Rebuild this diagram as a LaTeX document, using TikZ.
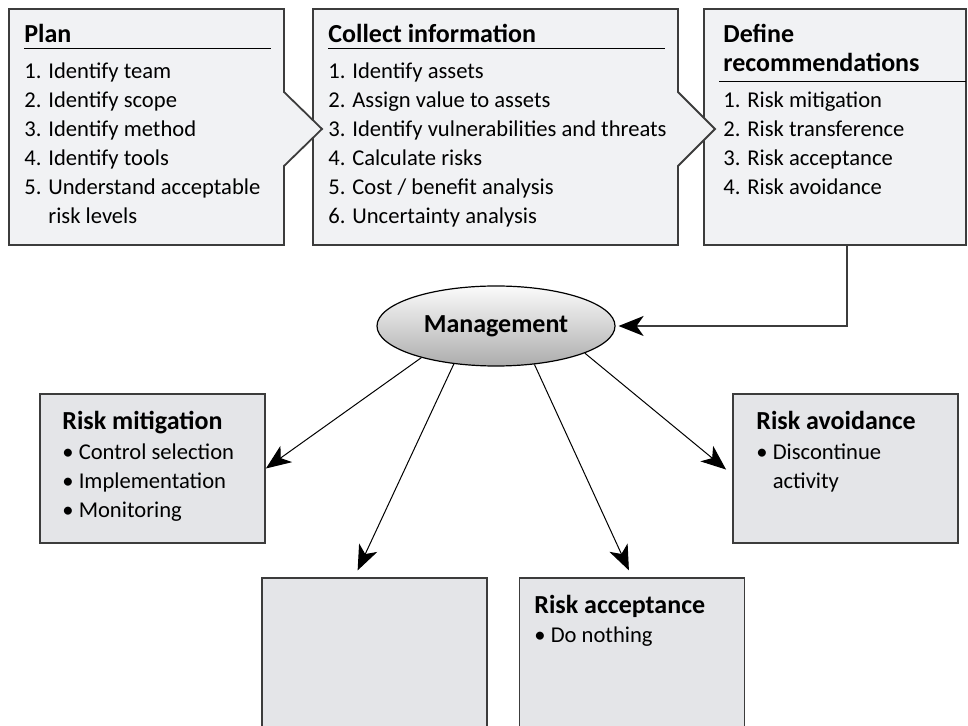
\documentclass[tikz,border=0pt]{standalone}
\usepackage{fontspec}
\setmainfont{Carlito}
\usepackage{tikz}
\usetikzlibrary{arrows.meta,positioning,shapes.geometric}

\definecolor{topfill}{RGB}{241,242,244}
\definecolor{lowfill}{RGB}{228,229,232}
\definecolor{edge}{RGB}{60,60,60}

\tikzset{
  boxline/.style={draw=edge, line width=0.9pt},
  topbox/.style={boxline, fill=topfill},
  lowbox/.style={boxline, fill=lowfill, inner sep=0pt, minimum width=112.5pt},
  head/.style={anchor=base west, inner sep=0pt, font=\fontsize{13}{14.5}\selectfont\bfseries},
  item/.style={anchor=base west, inner sep=0pt, font=\fontsize{11.3}{14.5}\selectfont},
  bigtip/.style={-{Stealth[length=12.5pt,width=10pt,inset=3.5pt,color=black]}},
  arr/.style={bigtip, line width=0.5pt},
}

\begin{document}
\begin{tikzpicture}[x=0.5pt, y=-0.5pt]
    \clip (0,0) rectangle (968,726);
    \def\tip{129}
    \def\dy{29}
    % Top boxes (last one first, so the pointers cover the borders)
    \node[topbox, minimum width=131pt, minimum height=118pt] (define) at (835,127) {};
    \draw[topbox] (313,9) -- (678,9) -- (678,\tip-37) -- (715,\tip) -- (678,\tip+37)
      -- (678,245) -- (313,245) -- cycle;
    \draw[topbox] (9,9) -- (284,9) -- (284,\tip-37) -- (322,\tip) -- (284,\tip+37)
      -- (284,245) -- (9,245) -- cycle;

    % Headings
    \node[head] (planhd) at (24,43) {Plan};
    \node[head] (collhd) at (328,43) {Collect information};
    \node[head] (defhda) at (723,43) {Define};
    \node[head] (defhdb) at (723,43+\dy) {recommendations};
    \draw[line width=0.5pt] (24,49) -- (271,49);
    \draw[line width=0.5pt] (328,49) -- (665,49);
    \draw[line width=0.5pt] (719,82) -- (966,82);

    % Lists
    \foreach \txt [count=\i] in {1. Identify team, 2. Identify scope, 3. Identify method,
        4. Identify tools, 5. Understand acceptable, \phantom{5. }risk levels}
      \node[item] (plan\i) at (24,49.5+\dy*\i) {\txt};
    \foreach \txt [count=\i] in {1. Identify assets, 2. Assign value to assets,
        3. Identify vulnerabilities and threats, 4. Calculate risks,
        5. Cost / benefit analysis, 6. Uncertainty analysis}
      \node[item] (coll\i) at (328,49.5+\dy*\i) {\txt};
    \foreach \txt [count=\i] in {1. Risk mitigation, 2. Risk transference,
        3. Risk acceptance, 4. Risk avoidance}
      \node[item] (def\i) at (723,78.5+\dy*\i) {\txt};

    % Management
    \node[ellipse, draw=black, line width=0.6pt, top color=gray!3, bottom color=gray!65,
      minimum width=119pt, minimum height=40pt, inner sep=0pt,
      font=\fontsize{13}{14.5}\selectfont\bfseries] (mgmt) at (496,326) {Management};
    \draw[boxline, bigtip, shorten >=1.5pt] ([xshift=6pt]define.south) |- (mgmt.east);

    % Bottom boxes
    \node[lowbox, minimum height=74.5pt] (mitig) at (152.5,468.5) {};
    \node[lowbox, minimum height=74.5pt] (avoid) at (845.5,468.5) {};
    \node[lowbox, minimum height=91pt] (transf) at (374.5,669) {};
    \node[lowbox, minimum height=91pt] (accept) at (632,669) {};

    \node[head] (mitighd) at (62,429.5) {Risk mitigation};
    \foreach \txt [count=\i] in {Control selection, Implementation, Monitoring}
      \node[item] (mitig\i) at (62,430.5+\dy*\i) {\textbullet\ \txt};
    \node[head] (avoidhd) at (756,429.5) {Risk avoidance};
    \node[item] (avoid1) at (756,459.5) {\textbullet\ Discontinue};
    \node[item] (avoid2) at (756,459.5+\dy) {\phantom{\textbullet\ }activity};
    \node[head] (accepthd) at (534,613) {Risk acceptance};
    \node[item] (accept1) at (534,642) {\textbullet\ Do nothing};

    % Arrows
    \draw[arr] (mgmt.203) -- (mitig.east);
    \draw[arr, shorten >=3.7pt] (mgmt.222) -- ([xshift=-10pt]transf.north);
    \draw[arr, shorten >=3.7pt] (mgmt.315) -- (accept.north);
    \draw[arr, shorten >=3.9pt] (mgmt.343) -- ([yshift=-3pt]avoid.west);
\end{tikzpicture}
\end{document}
